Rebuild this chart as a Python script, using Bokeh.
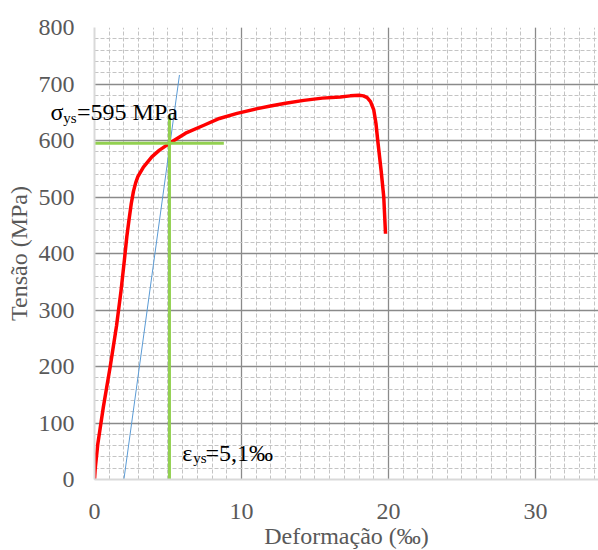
from bokeh.plotting import figure
from bokeh.models import Range1d, SingleIntervalTicker
from bokeh.core.properties import value
from bokeh.embed import file_html
from bokeh.resources import INLINE

# Stress-strain curve (strain in per mille, stress in MPa)
strain = [0, 0.05, 0.22, 0.6, 1.07, 1.5, 1.8, 2.04, 2.2, 2.36, 2.5, 2.65, 2.8, 2.95, 3.33,
          3.9, 4.42, 5.1, 6.2, 7.44, 8.5, 9.7, 11.0, 11.97, 13.0, 14.24, 15.5, 16.73,
          17.4, 18.0, 18.3, 18.55, 18.78, 19.0, 19.15, 19.27, 19.5, 19.68, 19.8]
stress = [0, 20, 62, 128, 200, 272, 333, 390, 430, 462, 488, 510, 525, 536, 553,
          571, 583, 595, 613, 627, 639, 648, 656, 661, 666, 671, 675, 677,
          679, 680, 679, 676, 669, 654, 630, 600, 547, 500, 435]

# Offset (elastic) line
offset_x = [2.0, 5.78]
offset_y = [0, 716]

# Yield point guides
eps_ys = 5.1
sig_ys = 595
h_guide_x = [0, 8.8]
v_guide_y = [0, 645]

x_title = "Deformação (‰)"
y_title = "Tensão (MPa)"

FONT = "Liberation Serif"
GRAY_TXT = "#595959"

X_MAX = 34.29

p = figure(width=598, height=550, output_backend="svg", toolbar_location=None,
           x_range=Range1d(0, X_MAX), y_range=Range1d(0, 800),
           min_border_left=94, min_border_right=0, min_border_top=27, min_border_bottom=71)
p.outline_line_color = None
p.background_fill_color = "white"

p.xaxis.ticker = SingleIntervalTicker(interval=10, num_minor_ticks=10)
p.yaxis.ticker = SingleIntervalTicker(interval=100, num_minor_ticks=5)

for ax in (p.xaxis[0], p.yaxis[0]):
    ax.axis_line_color = "#d9d9d9"
    ax.axis_line_width = 2
    ax.major_tick_line_color = None
    ax.minor_tick_line_color = None
    ax.major_tick_out = 0
    ax.major_tick_in = 0
    ax.minor_tick_out = 0
    ax.minor_tick_in = 0
    ax.major_label_text_font = FONT
    ax.major_label_text_font_size = "24px"
    ax.major_label_text_color = GRAY_TXT
    ax.axis_label_text_font = FONT
    ax.axis_label_text_font_size = "24px"
    ax.axis_label_text_font_style = "normal"
    ax.axis_label_text_color = GRAY_TXT

p.yaxis.axis_label = y_title
p.xaxis.major_label_standoff = 24
p.yaxis.major_label_standoff = 20
p.yaxis.axis_label_standoff = 4

for g in (p.xgrid[0], p.ygrid[0]):
    g.grid_line_color = "#8a8a8a"
    g.grid_line_width = 1.3
    g.minor_grid_line_color = "#c4c4c4"
    g.minor_grid_line_width = 1
    g.minor_grid_line_dash = "4 2"

p.line(offset_x, offset_y, line_color="#5B9BD5", line_width=1)
p.line(strain, stress, line_color="#FF0000", line_width=3.5, line_join="round")
p.line(h_guide_x, [sig_ys, sig_ys], line_color="#92D050", line_width=3)
p.line([eps_ys, eps_ys], v_guide_y, line_color="#92D050", line_width=3)

# x-axis title, drawn below the frame (centred under the x range)
p.text(x=[X_MAX / 2], y=[0], text=[x_title], y_offset=56,
       text_font=value(FONT), text_font_size="24px", text_color=GRAY_TXT,
       text_align="center", text_baseline="alphabetic", level="overlay")


def annot(x, y, sym, rest, sub_dx, rest_dx, sub_dy):
    common = dict(text_font=value(FONT), text_color="black",
                  text_baseline="alphabetic", text_align="left", level="overlay")
    p.text(x=[x], y=[y], text=[sym], y_offset=-8, text_font_size="24px", **common)
    p.text(x=[x], y=[y], text=["ys"], x_offset=sub_dx, y_offset=sub_dy - 8,
           text_font_size="15px", **common)
    p.text(x=[x], y=[y], text=[rest], x_offset=rest_dx, y_offset=-8,
           text_font_size="24px", **common)


# sigma_ys annotation (left of the frame) and epsilon_ys annotation
annot(-3.0, 636, "σ", "=595 MPa", 12.8, 26.6, 6)
annot(5.97, 33, "ε", "=5,1‰", 11, 23.3, 5)

open("out.html", "w").write(file_html(p, INLINE))
